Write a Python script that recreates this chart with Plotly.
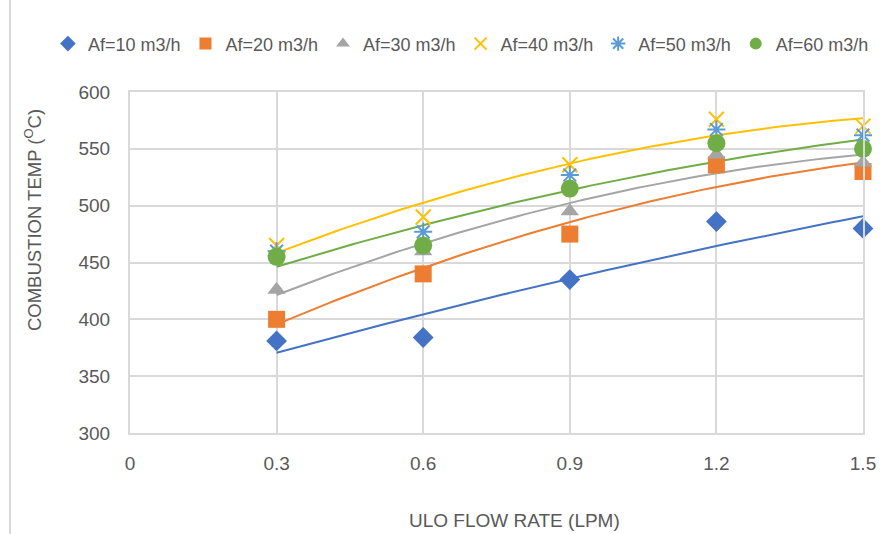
import numpy as np
import plotly.graph_objects as go

flow = [0.3, 0.6, 0.9, 1.2, 1.5]
af10 = [381, 384, 435, 486, 480]
af20 = [400, 440, 475, 536, 530]
af30 = [426, 460, 495, 545, 538]
af40 = [465, 490, 536, 576, 570]
af50 = [460, 477, 527, 567, 562]
af60 = [455, 465, 515, 555, 550]

names = ["Af=10 m3/h", "Af=20 m3/h", "Af=30 m3/h", "Af=40 m3/h", "Af=50 m3/h", "Af=60 m3/h"]
series = [af10, af20, af30, af40, af50, af60]
colors = ["#4472C4", "#ED7D31", "#A5A5A5", "#FFC000", "#5B9BD5", "#70AD47"]
symbols = ["diamond", "square", "triangle-up", "x-thin-open", "asterisk-open", "circle"]
sizes = [16, 17, 16, 15, 15, 18]
has_trend = [True, True, True, True, False, True]

x_title = "ULO FLOW RATE (LPM)"
y_title = "COMBUSTION TEMP (<sup>O</sup>C)"

FONT = "'Liberation Sans', Arial, sans-serif"

fig = go.Figure()

# polynomial (order 2) trendlines computed from the data
xs = np.linspace(min(flow), max(flow), 100)
for name, ys, c, t in zip(names, series, colors, has_trend):
    if not t:
        continue
    coef = np.polyfit(flow, ys, 2)
    fig.add_trace(go.Scatter(x=xs, y=np.polyval(coef, xs), mode="lines",
                             line=dict(color=c, width=2), showlegend=False,
                             hoverinfo="skip", cliponaxis=False))

for name, ys, c, s, sz in zip(names, series, colors, symbols, sizes):
    if s.endswith("open"):
        marker = dict(symbol=s, size=sz, color=c, line=dict(color=c, width=2))
    else:
        marker = dict(symbol=s, size=sz, color=c, line=dict(width=0))
    fig.add_trace(go.Scatter(x=flow, y=ys, mode="markers", name=name, marker=marker,
                             cliponaxis=False))

fig.update_layout(
    width=893, height=534,
    paper_bgcolor="white", plot_bgcolor="white",
    margin=dict(l=130, r=30, t=92, b=101, autoexpand=False),
    font=dict(family=FONT, size=19, color="#595959"),
    legend=dict(orientation="h", x=-0.112, xanchor="left", y=1.141, yanchor="middle",
                font=dict(size=18, color="#595959"), itemwidth=30,
                tracegroupgap=0, itemsizing="constant"),
    xaxis=dict(range=[0, 1.5], tickmode="array", tickvals=[0, 0.3, 0.6, 0.9, 1.2, 1.5],
               ticktext=["0", "0.3", "0.6", "0.9", "1.2", "1.5"],
               showgrid=True, gridcolor="#d9d9d9", gridwidth=2,
               showline=True, linecolor="#d9d9d9", linewidth=2, mirror=True,
               zeroline=False, ticks="", ticklabelstandoff=12, automargin=False),
    yaxis=dict(range=[300, 600], dtick=50,
               showgrid=True, gridcolor="#d9d9d9", gridwidth=2,
               showline=True, linecolor="#d9d9d9", linewidth=2, mirror=True,
               zeroline=False, ticks="", ticklabelstandoff=14, automargin=False),
    annotations=[
        dict(text=x_title, xref="paper", yref="paper", x=0.524, y=-0.258,
             xanchor="center", yanchor="middle", showarrow=False,
             font=dict(size=19, color="#595959")),
        dict(text=y_title, xref="paper", yref="paper", x=-0.132, y=0.625,
             xanchor="center", yanchor="middle", showarrow=False, textangle=-90,
             font=dict(size=18.5, color="#595959")),
    ],
    shapes=[dict(type="line", xref="paper", yref="paper", x0=-0.1637, x1=-0.1637,
                 y0=-0.3, y1=1.3, line=dict(color="#d9d9d9", width=2))],
)

fig.write_html("out.html", config={"displayModeBar": False},
               post_script="document.body.style.margin='0';")
